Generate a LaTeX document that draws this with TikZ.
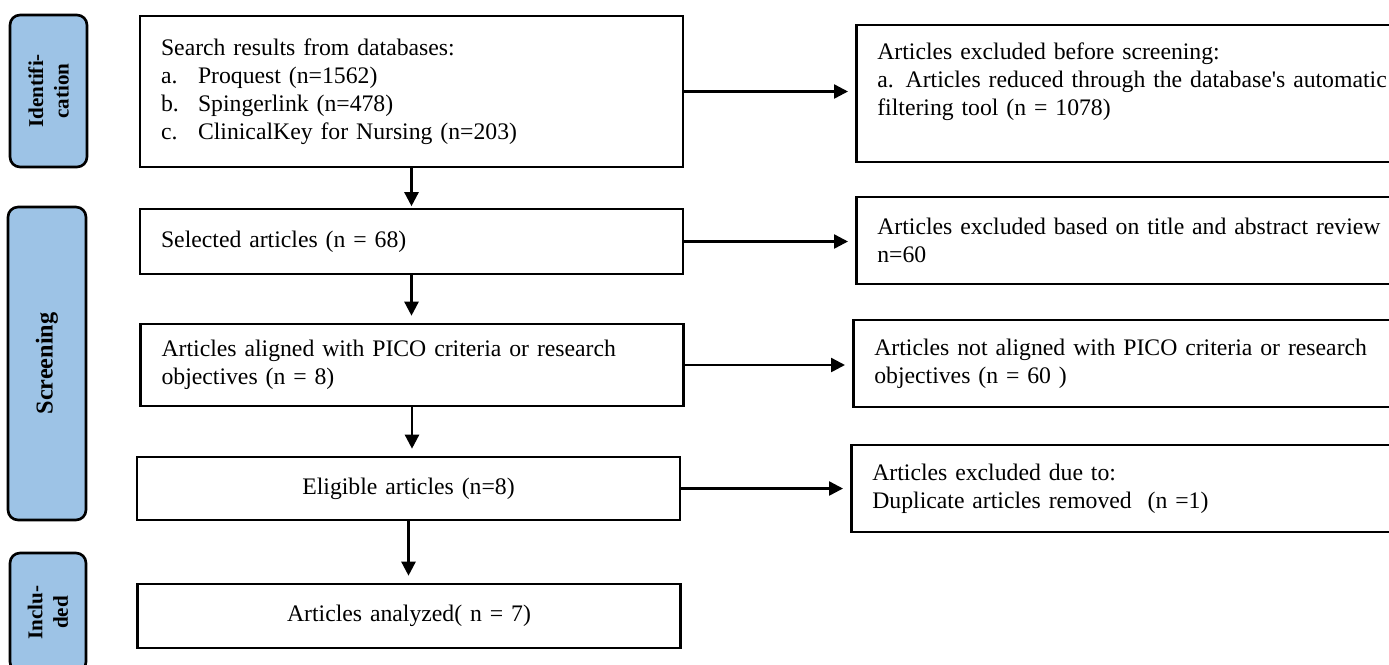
\documentclass[tikz,border=0pt]{standalone}
\usepackage{fontspec}
\setmainfont{Liberation Serif}
\usetikzlibrary{arrows.meta}
\definecolor{stagefill}{RGB}{157,195,230}
\tikzset{
	box/.style={draw, line width=1.5pt, inner xsep=0.42cm, inner ysep=0pt, align=left, text width=10.02cm, font=\fontsize{13.5}{15.9}\selectfont},
	outbox/.style={box, anchor=west, text width=12cm},
	stage/.style={draw, line width=1.5pt, rounded corners=0.2cm, fill=stagefill, rotate=90, align=center, inner sep=0pt, font=\bfseries\fontsize{12}{14.5}\selectfont},
	arr/.style={-{Triangle[length=0.28cm,width=0.28cm]}, line width=1.4pt, shorten >=0.14cm}
}
\begin{document}
\begin{tikzpicture}[x=0.02cm,y=-0.02cm]
	\useasboundingbox (0,0) rectangle (1389,664);
	% stages
	\node[stage, minimum width=3.04cm, minimum height=1.54cm] (ident) at (48.5,91) {Identifi-\\cation};
	\node[stage, minimum width=6.26cm, minimum height=1.56cm, font=\bfseries\fontsize{13.8}{16}\selectfont] (screen) at (47,363.5) {Screening};
	\node[stage, minimum width=2.38cm, minimum height=1.52cm] (incl) at (48,612.5) {Inclu-\\ded};
	% main boxes
	\node[box, minimum height=3.02cm] (search) at (411.5,91.5) {Search results from databases:\\
		\makebox[0.74cm][l]{a.}Proquest (n=1562)\\
		\makebox[0.74cm][l]{b.}Spingerlink (n=478)\\
		\makebox[0.74cm][l]{c.}ClinicalKey for Nursing (n=203)};
	\node[box, minimum height=1.3cm] (sel) at (411.5,241.5) {Selected articles (n = 68)};
	\node[box, minimum height=1.64cm] (pico) at (412,365) {Articles aligned with PICO criteria or research\\objectives (n = 8)};
	\node[box, minimum height=1.26cm, align=center] (elig) at (408.5,488.5) {Eligible articles (n=8)};
	\node[box, minimum height=1.28cm, align=center] (anal) at (409,616) {Articles analyzed( n = 7)};
	% excluded boxes
	\node[outbox, minimum height=2.74cm] (r1) at (855,93.5) {Articles excluded before screening:\\a. Articles reduced through the database\textquotesingle s automatic\\filtering tool (n = 1078)\\ \mbox{}};
	\node[outbox, minimum height=1.74cm] (r2) at (855,240.5) {Articles excluded based on title and abstract review\\n=60};
	\node[outbox, minimum height=1.74cm] (r3) at (852,363.5) {Articles not aligned with PICO criteria or research\\objectives (n = 60 )};
	\node[outbox, minimum height=1.74cm] (r4) at (850,488.5) {Articles excluded due to:\\Duplicate articles removed~ (n =1)};
	% arrows
	\draw[arr, shorten >=0.03cm] (search.south) -- (search.south |- sel.north);
	\draw[arr] (sel.south) -- (sel.south |- pico.north);
	\draw[arr] (pico.south) -- (pico.south |- elig.north);
	\draw[arr] (elig.south) -- (elig.south |- anal.north);
	\draw[arr] (search.east) -- (search.east -| r1.west);
	\draw[arr] (sel.east) -- (sel.east -| r2.west);
	\draw[arr] (pico.east) -- (pico.east -| r3.west);
	\draw[arr] (elig.east) -- (elig.east -| r4.west);
\end{tikzpicture}
\end{document}
